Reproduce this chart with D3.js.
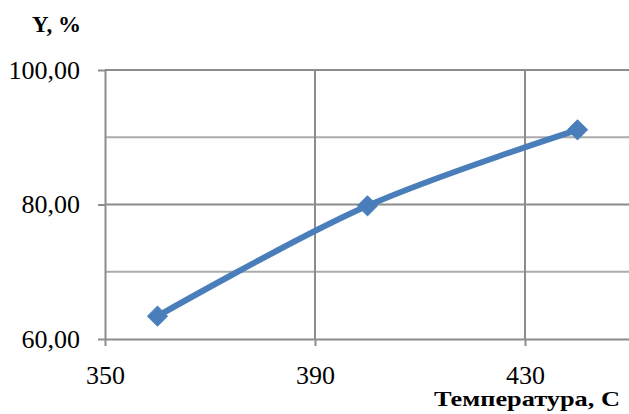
<!DOCTYPE html>
<meta charset="utf-8">
<script src="https://d3js.org/d3.v7.min.js"></script>
<style>
  body { margin: 0; background: #fff; }
</style>
<div id="my_dataviz"></div>
<script>

// data
var temperature = [360, 400, 440]
var yieldPct = [63.4, 79.8, 91.1]
var xTicks = [350, 390, 430]
var yTicks = [60, 80, 100]
var yMinor = [70, 90]

var width = 629
var height = 414
var serif = "'Liberation Serif'"

var svg = d3.select("#my_dataviz")
  .append("svg")
    .attr("width", width)
    .attr("height", height)

var x = d3.scaleLinear().domain([350, 450]).range([105, 630])
var y = d3.scaleLinear().domain([60, 100]).range([339, 70])

var fmt = function(d){ return d3.format(".2f")(d).replace(".", ",") }

// minor horizontal gridlines
svg.selectAll(".minor")
  .data(yMinor)
  .enter().append("line")
    .attr("x1", x(350)).attr("x2", x(450))
    .attr("y1", d => y(d)).attr("y2", d => y(d))
    .attr("stroke", "#ababab")
    .attr("stroke-width", 2)

// major gridlines
svg.selectAll(".hmajor")
  .data(yTicks.slice(1))
  .enter().append("line")
    .attr("x1", x(350)).attr("x2", x(450))
    .attr("y1", d => y(d)).attr("y2", d => y(d))
    .attr("stroke", "#8c8c8c")
    .attr("stroke-width", 2)

svg.selectAll(".vmajor")
  .data(xTicks.slice(1))
  .enter().append("line")
    .attr("x1", d => x(d)).attr("x2", d => x(d))
    .attr("y1", y(100)).attr("y2", y(60))
    .attr("stroke", "#8c8c8c")
    .attr("stroke-width", 2)

// axes
var xAxis = svg.append("g")
  .attr("transform", "translate(0," + y(60) + ")")
  .call(d3.axisBottom(x).tickValues(xTicks).tickSize(7).tickPadding(20).tickSizeOuter(0))
xAxis.attr("font-family", null).attr("font-size", null)
xAxis.select(".domain").attr("stroke", "#8c8c8c").attr("stroke-width", 2)
xAxis.selectAll(".tick line").attr("stroke", "#8c8c8c").attr("stroke-width", 2)
xAxis.selectAll("text").style("font-family", serif).style("font-size", "26px").attr("fill", "#000")

var yAxis = svg.append("g")
  .attr("transform", "translate(" + x(350) + ",0)")
  .call(d3.axisLeft(y).tickValues(yTicks).tickFormat(fmt).tickSize(7).tickPadding(18).tickSizeOuter(0))
yAxis.attr("font-family", null).attr("font-size", null)
yAxis.select(".domain").attr("stroke", "#8c8c8c").attr("stroke-width", 2)
yAxis.selectAll(".tick line").attr("stroke", "#8c8c8c").attr("stroke-width", 2)
yAxis.selectAll("text").style("font-family", serif).style("font-size", "26px").attr("fill", "#000")

// series
var pts = temperature.map(function(t, i){ return [t, yieldPct[i]] })

var line = d3.line()
  .x(d => x(d[0]))
  .y(d => y(d[1]))
  .curve(d3.curveCatmullRom.alpha(0.5))

svg.append("path")
  .datum(pts)
  .attr("fill", "none")
  .attr("stroke", "#4a7ebb")
  .attr("stroke-width", 6)
  .attr("stroke-linejoin", "round")
  .attr("d", line)

svg.selectAll(".pt")
  .data(pts)
  .enter().append("path")
    .attr("d", d3.symbol().type(d3.symbolDiamond2).size(260))
    .attr("transform", d => "translate(" + x(d[0]) + "," + y(d[1]) + ")")
    .attr("fill", "#4a7ebb")
    .attr("stroke", "#4a7ebb")
    .attr("stroke-width", 1)

// axis titles
svg.append("text")
  .attr("x", 32)
  .attr("y", 32)
  .style("font-family", serif)
  .style("font-size", "23px")
  .style("font-weight", "bold")
  .text("Y, %")

svg.append("text")
  .attr("x", 434)
  .attr("y", 406)
  .attr("textLength", 186)
  .attr("lengthAdjust", "spacingAndGlyphs")
  .style("font-family", serif)
  .style("font-size", "22px")
  .style("font-weight", "bold")
  .text("Температура, С")

</script>
